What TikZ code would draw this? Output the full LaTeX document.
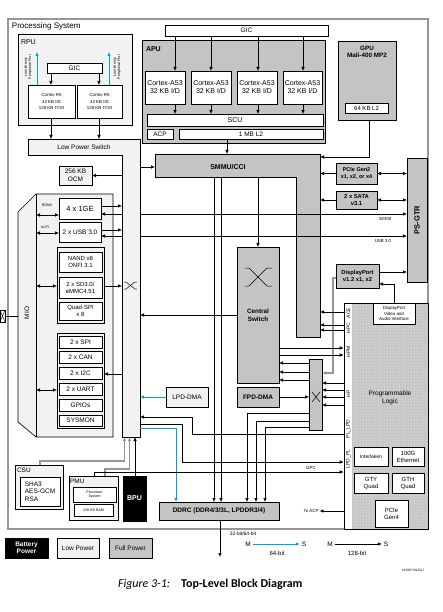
\documentclass[tikz,border=0pt]{standalone}
\usepackage{fontspec}
\setmainfont{Liberation Sans}
\newfontfamily\capfont{Carlito}
\usetikzlibrary{arrows.meta,patterns}
\definecolor{fullg}{RGB}{196,196,196}
\definecolor{lowg}{RGB}{242,242,242}
\definecolor{psg}{RGB}{150,150,150}
\definecolor{bl}{RGB}{0,160,225}
\definecolor{plg}{RGB}{198,198,198}
\newcommand\bx[7]{\node[#2, minimum width={(#5-#3)*1pt}, minimum height={(#6-#4)*1pt}] (#1) at ({(#3+#5)/2},{(#4+#6)/2}) {#7};}
\begin{document}
\begin{tikzpicture}[x=1pt,y=-1pt,
  box/.style={draw=black, line width=0.6pt, inner sep=0pt, outer sep=0pt, align=center},
  ghost/.style={inner sep=0pt, outer sep=0pt},
  full/.style={box, fill=fullg},
  low/.style={box, fill=lowg},
  wht/.style={box, fill=white},
  lbl/.style={inner sep=0pt, outer sep=0pt, align=center},
  fa/.style={font=\fontsize{7}{8}\selectfont},
  fb/.style={font=\fontsize{6.5}{7.5}\selectfont},
  fc/.style={font=\fontsize{6}{7}\selectfont},
  fd/.style={font=\fontsize{5}{6}\selectfont},
  fe/.style={font=\fontsize{4.4}{5.2}\selectfont},
  ff/.style={font=\fontsize{3.6}{4.2}\selectfont},
  arr/.style={-{Latex[length=4pt,width=3.5pt]}, line width=0.6pt},
  darr/.style={{Latex[length=4pt,width=3.5pt]}-{Latex[length=4pt,width=3.5pt]}, line width=0.6pt},
  barr/.style={-{Latex[length=4pt,width=3.5pt]}, line width=0.8pt, draw=bl},
  garr/.style={-{Latex[length=4pt,width=3.5pt]}, line width=1.6pt, draw=psg},
]
\useasboundingbox (0,0) rectangle (442,612);
\fill[white] (0,0) rectangle (442,612);

% Processing system
\bx{ps}{draw=psg, line width=1.3pt, inner sep=0pt}{8}{19}{428}{529}{}
\node[lbl, font=\fontsize{8}{9}\selectfont, anchor=west] (pslbl) at (12,26) {Processing System};

% RPU
\bx{rpu}{low}{18}{34}{132}{125}{}
\node[lbl, fa, anchor=west] (rpulbl) at (21,42) {RPU};
\bx{gicr}{wht, fb}{47}{63}{102}{73}{GIC}
\bx{rfa}{wht, fe}{28}{85}{75}{118}{Cortex-R5\\[1pt]32 KB I/D\\[1pt]128 KB TCM}
\bx{rfb}{wht, fe}{77}{85}{122}{118}{Cortex-R5\\[1pt]32 KB I/D\\[1pt]128 KB TCM}
\draw[arr] (gicr.south -| 51,0) -- (rfa.north -| 51,0);
\draw[arr] (gicr.south -| 99,0) -- (rfb.north -| 99,0);
\coordinate (llpa) at (37,52);
\coordinate (llpb) at (109,52);
\draw[barr] (rfa.north -| 37,0) -- (llpa);
\draw[barr] (rfb.north -| 109,0) -- (llpb);
\node[lbl, ff, rotate=90] (llpta) at (28,67) {Low-latency\\Peripheral Port};
\node[lbl, ff, rotate=90] (llptb) at (117,67) {Low-latency\\Peripheral Port};

% Low power switch (L shape)
\fill[lowg] (28,139) -- (140,139) -- (140,437) -- (122,437) -- (122,155) -- (28,155) -- cycle;
\draw[line width=0.6pt] (28,139) -- (140,139) -- (140,437) -- (122,437) -- (122,155) -- (28,155) -- cycle;
\bx{lpsw}{ghost, fb}{28}{139}{140}{155}{Low Power Switch}
\bx{lbar}{ghost}{122}{155}{140}{437}{}
\draw[line width=0.5pt] (124,282) -- (126,282) -- (135,289) -- (137,289);
\draw[line width=0.5pt] (124,289) -- (126,289) -- (135,282) -- (137,282);
\draw[arr] (rfa.south -| 51,0) -- (lpsw.north -| 51,0);
\draw[arr] (rfb.south -| 99,0) -- (lpsw.north -| 99,0);

% OCM
\bx{ocm}{low, fb}{59}{166}{92}{185}{256 KB\\OCM}
\draw[arr] (lbar.west |- ocm.east) -- (ocm.east);

% MIO
\fill[lowg] (36,194) -- (113,194) -- (113,437) -- (36,437) -- (18,422) -- (18,212) -- cycle;
\draw[line width=0.6pt] (36,194) -- (113,194) -- (113,437) -- (36,437) -- (18,422) -- (18,212) -- cycle;
\draw[line width=0.6pt] (36,194) -- (36,437);
\bx{mio}{ghost}{36}{194}{113}{437}{}
\node[lbl, fb, rotate=90] (miolbl) at (27,313) {MIO};
\bx{mport}{draw=black, line width=0.5pt, fill=white, inner sep=0pt}{0}{310}{5}{322}{}
\draw[line width=0.4pt] (mport.north west) -- (mport.south east) (mport.south west) -- (mport.north east);
\draw[line width=0.6pt] (mport.east) -- (18,316);

\bx{ge}{wht, font=\fontsize{7.5}{8.5}\selectfont}{59}{198}{101}{219}{4 x 1GE}
\node[lbl, ff] (rgmii) at (47,205) {RGMII};
\draw[darr] (mio.west |- 0,215) -- (ge.west |- 0,215);
\draw[arr] (ge.east |- 0,206) -- (lbar.west |- 0,206);
\draw[arr] (lbar.west |- 0,214) -- (ge.east |- 0,214);

\bx{usb}{wht, fb}{59}{222}{101}{242}{2 x USB 3.0}
\node[lbl, ff] (ulpi) at (45,227) {ULPI};
\draw[darr] (mio.west |- 0,233) -- (usb.west |- 0,233);
\draw[arr] (usb.east |- 0,230) -- (lbar.west |- 0,230);
\draw[arr] (lbar.west |- 0,236) -- (usb.east |- 0,236);

\bx{gone}{low}{57}{247}{104}{323}{}
\bx{nand}{wht, fc}{59}{252}{102}{272}{NAND x8\\ONFI 3.1}
\bx{sd}{wht, fc}{59}{277}{102}{298}{2 x SD3.0/\\eMMC4.51}
\bx{qspi}{wht, fc}{59}{302}{102}{320}{Quad-SPI\\x 8}
\draw[darr] (mio.west |- 0,286) -- (gone.west |- 0,286);
\draw[arr] (gone.east |- 0,286) -- (lbar.west |- 0,286);

\bx{gtwo}{low}{57}{333}{104}{428}{}
\bx{spi}{wht, fb}{59}{336}{102}{348}{2 x SPI}
\bx{can}{wht, fb}{59}{351}{102}{363}{2 x CAN}
\bx{iic}{wht, fb}{59}{367}{102}{379}{2 x I2C}
\bx{uart}{wht, fb}{59}{383}{102}{395}{2 x UART}
\bx{gpio}{wht, fb}{59}{399}{102}{411}{GPIOs}
\bx{sysmon}{wht, fb}{59}{415}{102}{426}{SYSMON}
\draw[darr] (mio.west |- 0,390) -- (gtwo.west |- 0,390);
\draw[arr] (lbar.west |- 0,374) -- (gtwo.east |- 0,374);

% APU
\bx{apu}{full}{142}{40}{325}{143}{}
\node[lbl, font=\bfseries\fontsize{7}{8}\selectfont, anchor=west] (apulbl) at (146,49) {APU};
\bx{gic}{wht, fb}{165}{25}{328}{36}{GIC}
\bx{aa}{wht, fa}{145}{71}{185}{104}{Cortex-A53\\32 KB I/D}
\bx{ab}{wht, fa}{191}{71}{231}{104}{Cortex-A53\\32 KB I/D}
\bx{ac}{wht, fa}{237}{71}{277}{104}{Cortex-A53\\32 KB I/D}
\bx{ad}{wht, fa}{283}{71}{322}{104}{Cortex-A53\\32 KB I/D}
\bx{scu}{wht, fa}{147}{114}{323}{126}{SCU}
\bx{acp}{wht, fb}{147}{129}{173}{139}{ACP}
\bx{ltwo}{wht, fb}{179}{129}{323}{139}{1 MB L2}
\draw[arr] (gic.south -| 175,0) -- (aa.north -| 175,0);
\draw[arr] (gic.south -| 211,0) -- (ab.north -| 211,0);
\draw[arr] (gic.south -| 258,0) -- (ac.north -| 258,0);
\draw[arr] (gic.south -| 303,0) -- (ad.north -| 303,0);
\draw[arr] (aa.south -| 175,0) -- (scu.north -| 175,0);
\draw[arr] (ab.south -| 211,0) -- (scu.north -| 211,0);
\draw[arr] (ac.south -| 258,0) -- (scu.north -| 258,0);
\draw[arr] (ad.south -| 303,0) -- (scu.north -| 303,0);

% GPU
\bx{gpu}{full}{338}{41}{396}{120}{}
\node[lbl, font=\bfseries\fontsize{6.3}{7.5}\selectfont] (gpulbl) at (367,52) {GPU\\Mali-400 MP2};
\bx{gltwo}{wht, fc}{345}{103}{388}{113}{64 KB L2}

% SMMU/CCI
\fill[fullg] (155,154) -- (320,154) -- (320,337) -- (296,337) -- (296,177) -- (155,177) -- cycle;
\draw[line width=0.6pt] (155,154) -- (320,154) -- (320,337) -- (296,337) -- (296,177) -- (155,177) -- cycle;
\bx{smmuh}{ghost}{155}{154}{320}{177}{}
\bx{smmuv}{ghost}{296}{154}{320}{337}{}
\node[lbl, font=\bfseries\fontsize{7}{8}\selectfont] (smmulbl) at (228,167) {SMMU/CCI};
\draw[arr] (ltwo.south -| 227,0) -- (smmuh.north -| 227,0);
\draw[arr] (lbar.east |- 0,167) -- (smmuh.west |- 0,167);
\draw[arr] (gpu.south -| 369,0) -- (369,157) -- (smmuv.east |- 0,157);

% PCIe, SATA, PS-GTR, DisplayPort
\bx{psgtr}{full}{407}{158}{427}{282}{}
\node[lbl, font=\bfseries\fontsize{7.5}{8.5}\selectfont, rotate=90] (psgtrlbl) at (417,220) {PS-GTR};
\bx{pcie}{full, font=\bfseries\fontsize{5.5}{6.5}\selectfont}{336}{163}{377}{184}{PCIe Gen2\\x1, x2, or x4}
\bx{sata}{full, font=\bfseries\fontsize{5.8}{6.8}\selectfont}{336}{191}{377}{209}{2 x SATA\\v3.1}
\draw[arr] (pcie.west) -- (smmuv.east |- pcie.west);
\draw[arr] (sata.west) -- (smmuv.east |- sata.west);
\draw[darr] (pcie.east) -- (psgtr.west |- pcie.east);
\draw[darr] (sata.east) -- (psgtr.west |- sata.east);
\draw[arr] (lbar.east |- 0,214) -- (psgtr.west |- 0,214);
\draw[arr] (lbar.east |- 0,236) -- (psgtr.west |- 0,236);
\node[lbl, fe] (sgmii) at (385,219) {SGMII};
\node[lbl, fe] (usbt) at (383,241) {USB 3.0};
\bx{dp}{full, font=\bfseries\fontsize{5.8}{6.8}\selectfont}{336}{264}{379}{288}{DisplayPort\\v1.2 x1, x2}
\draw[arr] (dp.east |- 0,272) -- (psgtr.west |- 0,272);

% Central switch
\bx{cs}{full}{237}{247}{279}{383}{}
\draw[line width=0.5pt] (245,268) -- (249,268) -- (267,286) -- (272,286);
\draw[line width=0.5pt] (245,286) -- (249,286) -- (267,268) -- (272,268);
\node[lbl, font=\bfseries\fontsize{6.3}{8}\selectfont] (cslbl) at (258,315) {Central\\Switch};
\draw[arr] (smmuh.south -| 258,0) -- (cs.north -| 258,0);
\draw[arr] (cs.west |- 0,315) -- (lbar.east |- 0,315);

% FPD DMA, switch
\bx{fdma}{full, font=\bfseries\fontsize{6.5}{7.5}\selectfont}{237}{387}{279}{407}{FPD-DMA}
\bx{ldma}{low, fb}{166}{387}{208}{407}{LPD-DMA}
\draw[barr] (ldma.west) -- (lbar.east |- ldma.west);
\bx{xsw}{full}{309}{359}{322}{430}{}
\draw[line width=0.5pt] (312,392) -- (320,402) (312,402) -- (320,392);
\draw[arr] (fdma.east) -- (xsw.west |- fdma.east);
\draw[arr] (xsw.west |- 0,363) -- (cs.east |- 0,363);
\draw[arr] (xsw.west |- 0,372) -- (cs.east |- 0,372);
\draw[arr] (xsw.west |- 0,380) -- (cs.east |- 0,380);

% DDRC
\bx{ddrc}{full, font=\bfseries\fontsize{6.5}{7.5}\selectfont}{159}{502}{279}{520}{DDRC (DDR4/3/3L, LPDDR3/4)}
\draw[arr] (smmuh.south -| 214,0) -- (ddrc.north -| 214,0);
\draw[arr] (smmuh.south -| 221,0) -- (ddrc.north -| 221,0);
\draw[arr] (xsw.west |- 0,413) -- (247,413) -- (ddrc.north -| 247,0);
\draw[arr] (xsw.west |- 0,421) -- (256,421) -- (ddrc.north -| 256,0);
\draw[arr] (xsw.west |- 0,427) -- (265,427) -- (ddrc.north -| 265,0);
\coordinate (ddrout) at (220,557);
\draw[arr] (ddrc.south -| 220,0) -- (ddrout);
\node[lbl, fd] (bitw) at (243,534) {32-bit/64-bit};

% Programmable logic
\bx{pl}{draw=black, line width=0.6pt, fill=white, inner sep=0pt}{344}{303}{428}{529}{}
\fill[plg] (352,303.5) rectangle (427.5,528.5);
\fill[pattern=dots, pattern color=white] (352,303.5) rectangle (427.5,528.5);
\draw[line width=0.6pt] (344,303) rectangle (428,529);
\bx{dpv}{wht, fe}{373}{303}{415}{324}{DisplayPort\\Video and\\Audio Interface}
\draw[arr] (dpv.north -| 394,0) -- (394,284) -- (dp.east |- 0,284);
\draw[garr] (dp.west |- 0,278) -- (333,278) -- (333,373) -- (xsw.east |- 0,373);
\node[lbl, fb] (pllbl) at (390,398) {Programmable\\Logic};
\bx{ilk}{wht, fd}{354}{447}{388}{466}{Interlaken}
\bx{hge}{wht, fc}{392}{447}{424}{466}{100G\\Ethernet}
\bx{gty}{wht, fc}{354}{473}{388}{493}{GTY\\Quad}
\bx{gth}{wht, fc}{392}{473}{424}{493}{GTH\\Quad}
\bx{pcig}{wht, fc}{375}{500}{408}{527}{PCIe\\Gen4}
\node[lbl, fd, rotate=90] (ace) at (348.5,313) {ACE};
\node[lbl, fd, rotate=90] (hpc) at (348.5,328) {HPC};
\node[lbl, fd, rotate=90] (hpm) at (348.5,352) {HPM};
\node[lbl, fd, rotate=90] (hp) at (348.5,394) {HP};
\node[lbl, fd, rotate=90] (pllpd) at (348.5,429) {PL\_LPD};
\node[lbl, fd, rotate=90] (lpdpl) at (348.5,459) {LPD\_PL};
\draw[arr] (pl.west |- 0,312) -- (smmuv.east |- 0,312);
\draw[arr] (pl.west |- 0,325) -- (smmuv.east |- 0,325);
\draw[arr] (pl.west |- 0,330) -- (smmuv.east |- 0,330);
\draw[arr] (cs.east |- 0,348) -- (pl.west |- 0,348);
\draw[arr] (cs.east |- 0,355) -- (pl.west |- 0,355);
\draw[arr] (pl.west |- 0,383) -- (xsw.east |- 0,383);
\draw[arr] (pl.west |- 0,390) -- (xsw.east |- 0,390);
\draw[arr] (pl.west |- 0,397) -- (xsw.east |- 0,397);
\draw[arr] (pl.west |- 0,405) -- (xsw.east |- 0,405);
\draw[arr] (pl.west |- 0,434) -- (192,434) -- (192,417) -- (lbar.east |- 0,417);
\draw[arr] (lbar.east |- 0,424) -- (182,424) -- (182,462) -- (pl.west |- 0,462);
\draw[barr] (lbar.east |- 0,428.5) -- (176,428.5) -- (ddrc.north -| 176,0);
\node[lbl, fe] (toacp) at (311,511) {To ACP};
\draw[arr] (pl.west |- toacp.east) -- ([xshift=1pt]toacp.east);

% CSU, PMU, BPU
\bx{csu}{low}{15}{465}{63}{509}{}
\node[lbl, fb, anchor=west] (csulbl) at (17,470) {CSU};
\bx{csuin}{wht, fb, align=left}{20}{477}{60}{506}{SHA3\\AES-GCM\\RSA}
\bx{pmu}{low}{69}{476}{118}{520}{}
\node[lbl, fb, anchor=west] (pmulbl) at (70,481) {PMU};
\bx{pproc}{wht, ff}{73}{487}{116}{502}{Processor\\System}
\bx{pram}{wht, ff}{74}{504}{113}{516}{128 KB RAM}
\bx{bpu}{box, fill=black, text=white, font=\bfseries\fontsize{7}{8}\selectfont}{123}{476}{146}{521}{BPU}
\draw[arr] (bpu.north -| 135,0) -- (lbar.south -| 135,0);
\draw[garr] (csu.north -| 40,0) -- (40,461) -- (124.5,461) -- (lbar.south -| 124.5,0);
\draw[garr] (pmu.north -| 105,0) -- (105,469) -- (129.5,469) -- (lbar.south -| 129.5,0);
\draw[arr] (pmu.north -| 94,0) -- (94,472) -- (pl.west |- 0,472);
\node[lbl, fe] (gpc) at (311,468) {GPC};

% Legend
\bx{lgbat}{box, fill=black, text=white, font=\bfseries\fontsize{6.5}{7.5}\selectfont}{5}{538}{48}{558}{Battery\\Power}
\bx{lglow}{low, fb}{57}{538}{99}{558}{Low Power}
\bx{lgfull}{full, fb}{109}{538}{152}{558}{Full Power}
\node[lbl, fb] (ma) at (248,544) {M};
\node[lbl, fb] (sa) at (304,544) {S};
\draw[barr] ([xshift=2pt]ma.east) -- ([xshift=-2pt]sa.west);
\node[lbl, fc] (sixf) at (277,553) {64-bit};
\node[lbl, fb] (mb) at (330,544) {M};
\node[lbl, fb] (sb) at (386,544) {S};
\draw[arr] ([xshift=2pt]mb.east) -- ([xshift=-2pt]sb.west);
\node[lbl, fc] (otw) at (357,553) {128-bit};
\node[lbl, font=\fontsize{3.2}{3.8}\selectfont] (xid) at (413,570) {X15087-092517};
\node[lbl, anchor=west, font=\capfont\fontsize{12}{14}\selectfont] (cap) at (118,584) {\textit{Figure 3-1:}\hspace{11pt}\textbf{Top-Level Block Diagram}};
\end{tikzpicture}
\end{document}
